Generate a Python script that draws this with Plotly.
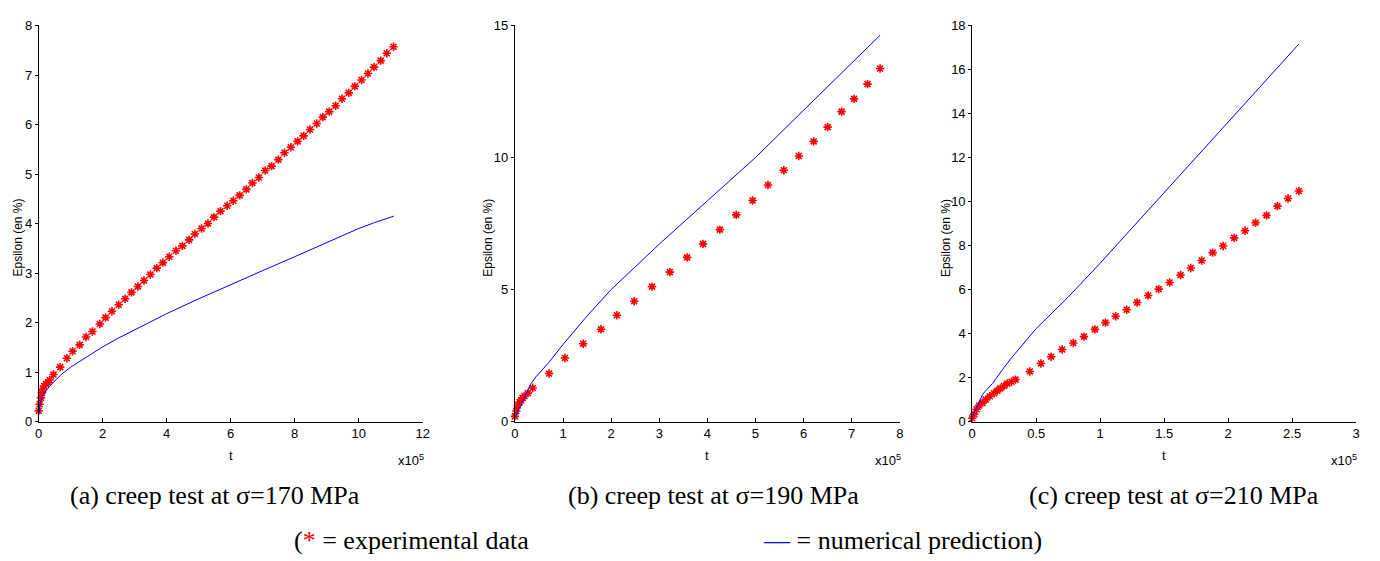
import plotly.graph_objects as go

# ---------------- data (t in units of 1e5 s, strain in %) ----------------
# (a) sigma = 170 MPa
t_exp_a = [0.0, 0.03, 0.07, 0.10, 0.13, 0.17, 0.23, 0.29, 0.34,
           0.46, 0.67, 0.88, 1.06, 1.28, 1.48, 1.68, 1.91, 2.09, 2.29, 2.50,
           2.70, 2.90, 3.10, 3.29, 3.49, 3.69, 3.88, 4.08, 4.29, 4.49, 4.70,
           4.88, 5.09, 5.29, 5.48, 5.68, 5.89, 6.08, 6.28, 6.49, 6.68, 6.88,
           7.08, 7.28, 7.49, 7.68, 7.88, 8.09, 8.28, 8.48, 8.69, 8.88, 9.08,
           9.28, 9.48, 9.69, 9.88, 10.09, 10.29, 10.48, 10.69, 10.88, 11.09]
eps_exp_a = [0.22, 0.35, 0.48, 0.58, 0.66, 0.72, 0.76, 0.79, 0.84,
             0.95, 1.10, 1.28, 1.42, 1.55, 1.71, 1.82, 1.97, 2.10, 2.23, 2.36,
             2.48, 2.61, 2.73, 2.85, 2.97, 3.10, 3.21, 3.33, 3.45, 3.55, 3.67,
             3.79, 3.90, 4.00, 4.13, 4.25, 4.36, 4.46, 4.57, 4.69, 4.82, 4.93,
             5.07, 5.16, 5.29, 5.43, 5.54, 5.66, 5.77, 5.90, 6.02, 6.15, 6.26,
             6.38, 6.52, 6.64, 6.77, 6.90, 7.03, 7.16, 7.29, 7.44, 7.57]
t_num_a = [0.0, 0.02, 0.05, 0.10, 0.20, 0.35, 0.50, 0.70, 1.00, 1.30, 1.60, 2.0,
           2.5, 3.0, 3.5, 4.0, 5.0, 6.0, 7.0, 8.0, 9.0, 10.0, 10.5, 11.1]
eps_num_a = [0.15, 0.28, 0.38, 0.48, 0.60, 0.72, 0.82, 0.95, 1.10, 1.22, 1.35, 1.51,
             1.69, 1.85, 2.02, 2.18, 2.48, 2.77, 3.05, 3.33, 3.62, 3.90, 4.02, 4.15]

# (b) sigma = 190 MPa
t_exp_b = [0.0, 0.03, 0.06, 0.10, 0.13, 0.16, 0.20, 0.27, 0.37, 0.71, 1.04, 1.42,
           1.79, 2.12, 2.48, 2.85, 3.22, 3.58, 3.91, 4.26, 4.60, 4.94, 5.26,
           5.59, 5.90, 6.21, 6.50, 6.79, 7.05, 7.33, 7.59]
eps_exp_b = [0.20, 0.40, 0.61, 0.74, 0.81, 0.90, 0.97, 1.08, 1.27, 1.82, 2.41, 2.95,
             3.50, 4.03, 4.56, 5.11, 5.66, 6.22, 6.73, 7.27, 7.83, 8.37, 8.96,
             9.52, 10.06, 10.61, 11.15, 11.74, 12.22, 12.78, 13.37]
t_num_b = [0.0, 0.10, 0.20, 0.34, 0.44, 0.71, 1.0, 1.5, 2.0, 2.5, 3.0, 4.0, 5.0,
           6.0, 7.0, 7.59]
eps_num_b = [0.15, 0.53, 0.96, 1.45, 1.70, 2.25, 2.92, 4.00, 5.00, 5.85, 6.72, 8.36,
             10.0, 11.79, 13.60, 14.63]

# (c) sigma = 210 MPa
t_exp_c = [0.0, 0.016, 0.034, 0.054, 0.080, 0.106, 0.137, 0.170, 0.196, 0.220,
           0.248, 0.274, 0.307, 0.338, 0.45, 0.537, 0.617, 0.703, 0.79, 0.873,
           0.959, 1.041, 1.121, 1.207, 1.289, 1.375, 1.457, 1.543, 1.628, 1.708,
           1.793, 1.879, 1.961, 2.047, 2.132, 2.214, 2.30, 2.385, 2.468, 2.553]
eps_exp_c = [0.15, 0.34, 0.56, 0.73, 0.85, 1.00, 1.15, 1.29, 1.40, 1.51,
             1.62, 1.73, 1.81, 1.91, 2.28, 2.64, 2.95, 3.28, 3.57, 3.86,
             4.19, 4.50, 4.79, 5.08, 5.41, 5.73, 6.02, 6.32, 6.66, 6.98,
             7.32, 7.68, 7.98, 8.35, 8.67, 9.04, 9.37, 9.79, 10.14, 10.48]
t_num_c = [0.0, 0.028, 0.054, 0.08, 0.10, 0.158, 0.235, 0.30, 0.5, 0.75, 1.0, 1.25,
           1.5, 1.75, 2.0, 2.25, 2.553]
eps_num_c = [0.19, 0.56, 0.93, 1.22, 1.37, 1.73, 2.35, 2.85, 4.23, 5.66, 7.20, 8.80,
             10.45, 12.05, 13.62, 15.25, 17.16]

x_ranges = [[0, 12], [0, 8], [0, 3]]
y_ranges = [[0, 8], [0, 15], [0, 18]]
x_ticks = [[0, 2, 4, 6, 8, 10, 12], [0, 1, 2, 3, 4, 5, 6, 7, 8],
           [0, 0.5, 1, 1.5, 2, 2.5, 3]]
y_ticks = [[0, 1, 2, 3, 4, 5, 6, 7, 8], [0, 5, 10, 15],
           [0, 2, 4, 6, 8, 10, 12, 14, 16, 18]]
captions = ["(a) creep test at σ=170 MPa", "(b) creep test at σ=190 MPa",
            "(c) creep test at σ=210 MPa"]
y_title = "Epsilon (en %)"
x_title = "t"

# ---------------- layout geometry ----------------
W, H = 1380, 561
x_px = [(35, 422), (515, 903), (976, 1363)]
y_px = (19, 426)
ytitle_px = [14, 488, 949]
caption_px = [213, 715, 1179]

def px(x):
    return x / W

def py(y):
    return 1 - y / H

fig = go.Figure()
series = [(t_exp_a, eps_exp_a, t_num_a, eps_num_a),
          (t_exp_b, eps_exp_b, t_num_b, eps_num_b),
          (t_exp_c, eps_exp_c, t_num_c, eps_num_c)]

sans = "Liberation Sans, Arial, sans-serif"
serif_family = "Liberation Serif, Times New Roman, serif"
axis_font = dict(family=sans, size=13, color="black")
annotations = []
for i, (te, ee, tn, en) in enumerate(series):
    s = "" if i == 0 else str(i + 1)
    fig.add_trace(go.Scatter(x=te, y=ee, mode="markers", xaxis="x" + s, yaxis="y" + s,
                             marker=dict(symbol="asterisk-open", size=7, color="red",
                                         line=dict(color="red", width=1.6)),
                             showlegend=False, cliponaxis=False))
    fig.add_trace(go.Scatter(x=tn, y=en, mode="lines", xaxis="x" + s, yaxis="y" + s,
                             line=dict(color="#0000ff", width=1),
                             showlegend=False))
    fig.layout["xaxis" + s] = dict(
        domain=[px(x_px[i][0]), px(x_px[i][1])], range=x_ranges[i],
        tickvals=x_ticks[i], ticktext=[f"{v:g}" for v in x_ticks[i]],
        ticks="inside", ticklen=4, tickcolor="black", showline=True, linecolor="black",
        linewidth=1, showgrid=False, zeroline=False, tickfont=axis_font,
        anchor="y" + s, fixedrange=True)
    fig.layout["yaxis" + s] = dict(
        domain=[py(y_px[1]), py(y_px[0])], range=y_ranges[i],
        tickvals=y_ticks[i], ticks="outside", ticklen=3, tickcolor="black",
        showline=True, linecolor="black", linewidth=1, showgrid=False,
        zeroline=False, tickfont=axis_font, anchor="x" + s, fixedrange=True)
    cx = (x_px[i][0] + x_px[i][1]) / 2
    annotations.append(dict(text=x_title, x=px(cx), y=py(461), xref="paper", yref="paper",
                            showarrow=False, font=axis_font, xanchor="center", yanchor="middle"))
    annotations.append(dict(text="x10<sup>5</sup>", x=px(x_px[i][1] + 3), y=py(465),
                            xref="paper", yref="paper", showarrow=False,
                            font=dict(family=sans, size=13, color="black"),
                            xanchor="right", yanchor="middle"))
    annotations.append(dict(text=y_title, x=px(ytitle_px[i]), y=py(237), xref="paper",
                            yref="paper", showarrow=False, textangle=-90,
                            font=dict(family=sans, size=12, color="black"),
                            xanchor="center", yanchor="middle"))
    annotations.append(dict(text=captions[i], x=px(caption_px[i]), y=py(502), xref="paper",
                            yref="paper", showarrow=False,
                            font=dict(family=serif_family, size=26, color="black"),
                            xanchor="center", yanchor="middle"))

serif = dict(family=serif_family, size=26, color="black")
annotations.append(dict(text="(<span style='color:#ff0000'>*</span> = experimental data",
                        x=px(290), y=py(548), xref="paper", yref="paper", showarrow=False,
                        font=serif, xanchor="left", yanchor="middle"))
annotations.append(dict(text="<span style='color:#0000ff'>—</span> = numerical prediction)",
                        x=px(763), y=py(548), xref="paper", yref="paper", showarrow=False,
                        font=serif, xanchor="left", yanchor="middle"))

fig.update_layout(width=W, height=H, margin=dict(l=0, r=0, t=0, b=0),
                  paper_bgcolor="white", plot_bgcolor="white",
                  annotations=annotations, showlegend=False)

fig.write_html("out.html", config={"displayModeBar": False},
               post_script="document.body.style.margin='0px';document.body.style.overflow='hidden';")
